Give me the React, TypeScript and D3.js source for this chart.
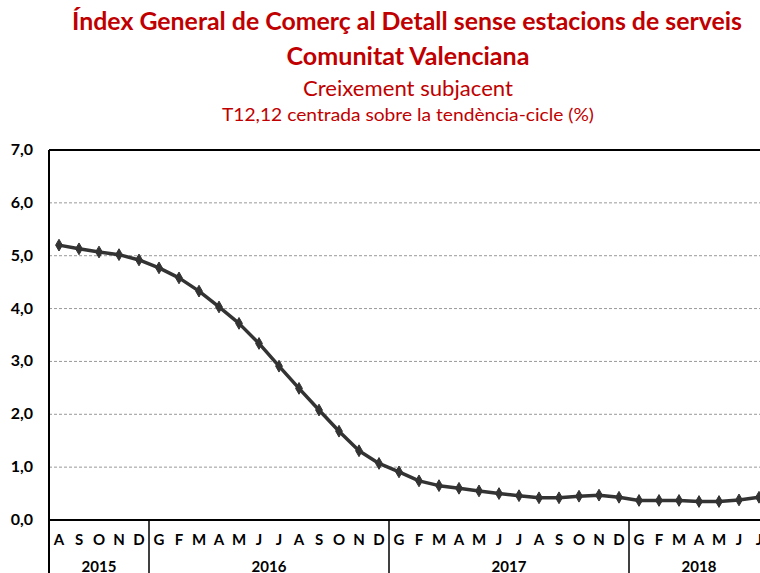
import React from "react";
import * as d3 from "d3";

const monthLabels = ["A","S","O","N","D","G","F","M","A","M","J","J","A","S","O","N","D","G","F","M","A","M","J","J","A","S","O","N","D","G","F","M","A","M","J","J"];
const values = [5.20,5.13,5.07,5.02,4.92,4.77,4.58,4.33,4.03,3.72,3.34,2.91,2.49,2.08,1.68,1.31,1.07,0.91,0.74,0.65,0.60,0.55,0.50,0.46,0.42,0.42,0.45,0.47,0.43,0.37,0.37,0.37,0.35,0.35,0.38,0.43];
const yearLabels = ["2015","2016","2017","2018"];
const yearCounts = [5,12,12,7];
const yTicks = [0,1,2,3,4,5,6,7];

const W = 760, H = 573;
const red = "#C00000";
const font = "Lato, 'Open Sans', sans-serif";

export default function App() {
  const left = 49, right = 769, top = 150, bottom = 520;
  const idx = values.map((_, i) => i);
  const x = d3.scaleBand<number>().domain(idx).range([left, right]);
  const cx = (i: number) => (x(i) as number) + x.bandwidth() / 2;
  const y = d3.scaleLinear().domain([0, 7]).range([bottom, top]);
  const line = d3.line<number>().x((_, i) => cx(i)).y(d => y(d));
  const diamond = d3.symbol().type(d3.symbolDiamond).size(40)() as string;

  const yearBounds: { label: string; start: number; end: number }[] = [];
  let acc = 0;
  yearCounts.forEach((c, k) => {
    const start = x(acc) as number;
    const endIdx = acc + c - 1;
    const end = (x(endIdx) as number) + x.bandwidth();
    yearBounds.push({ label: yearLabels[k], start, end });
    acc += c;
  });

  const fmt = (v: number) => v.toFixed(1).replace(".", ",");

  return (
    <svg width={W} height={H} style={{ position: "absolute", left: 0, top: 0, background: "#fff" }} fontFamily={font}>
      <text x={407} y={30} textAnchor="middle" fill={red} fontWeight="bold" fontSize={24} textLength={670} lengthAdjust="spacingAndGlyphs">Índex General de Comerç al Detall sense estacions de serveis</text>
      <text x={408} y={65} textAnchor="middle" fill={red} fontWeight="bold" fontSize={24} textLength={243} lengthAdjust="spacingAndGlyphs">Comunitat Valenciana</text>
      <text x={408} y={96} textAnchor="middle" fill={red} fontSize={21} textLength={210} lengthAdjust="spacingAndGlyphs">Creixement subjacent</text>
      <text x={408} y={121} textAnchor="middle" fill={red} fontSize={17} textLength={372} lengthAdjust="spacingAndGlyphs">T12,12 centrada sobre la tendència-cicle (%)</text>

      {yTicks.filter(t => t > 0 && t < 7).map(t => (
        <line key={"g" + t} x1={left} x2={right} y1={y(t)} y2={y(t)} stroke="#999" strokeWidth={1} strokeDasharray="3,2" />
      ))}
      {yTicks.map(t => (
        <text key={"yt" + t} x={33} y={y(t) + 5} textAnchor="end" fontWeight="bold" fontSize={16} fill="#000">{fmt(t)}</text>
      ))}

      <line x1={left} x2={right} y1={top} y2={top} stroke="#000" strokeWidth={2} />
      <line x1={left} x2={left} y1={top} y2={H + 5} stroke="#000" strokeWidth={2} />
      <line x1={left} x2={right} y1={bottom} y2={bottom} stroke="#000" strokeWidth={2} />
      {yearBounds.slice(1).map(b => (
        <line key={"s" + b.label} x1={b.start} x2={b.start} y1={bottom} y2={H + 5} stroke="#000" strokeWidth={1.5} />
      ))}
      {monthLabels.map((m, i) => (
        <text key={"m" + i} x={cx(i)} y={545} textAnchor="middle" fontWeight="bold" fontSize={15} fill="#000">{m}</text>
      ))}
      {yearBounds.map(b => (
        <text key={"y" + b.label} x={(b.start + b.end) / 2} y={572} textAnchor="middle" fontWeight="bold" fontSize={15} fill="#000">{b.label}</text>
      ))}

      <path d={line(values) as string} fill="none" stroke="#333" strokeWidth={3.5} strokeLinejoin="round" />
      {values.map((v, i) => (
        <path key={"p" + i} d={diamond} transform={`translate(${cx(i)},${y(v)})`} fill="#333" stroke="#333" strokeWidth={1} />
      ))}
    </svg>
  );
}
